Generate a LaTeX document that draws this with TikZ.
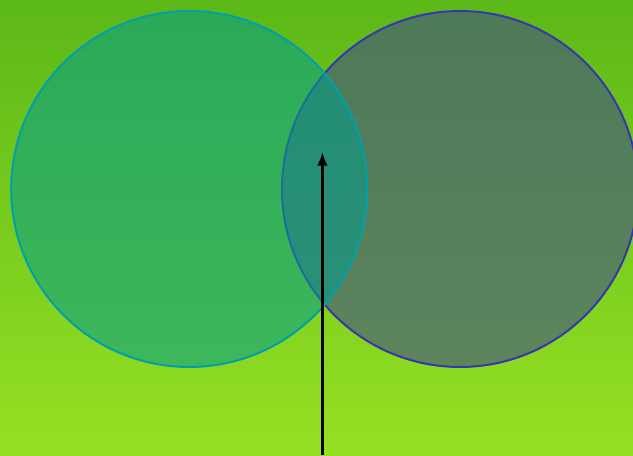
\documentclass[tikz,border=0pt]{standalone}
\usetikzlibrary{arrows.meta,positioning}
\definecolor{bgtop}{RGB}{92,184,24}
\definecolor{bgbot}{RGB}{150,224,36}
\definecolor{setA}{RGB}{0,157,140}
\definecolor{setAline}{RGB}{0,160,170}
\definecolor{setB}{RGB}{70,91,122}
\definecolor{setBline}{RGB}{55,55,170}
\tikzset{
  setcirc/.style={circle,minimum size=8.9cm,inner sep=0pt,line width=1.4pt},
  pointer/.style={-{Latex[length=3.4mm,width=2.6mm]},line width=1.7pt,black}
}

\begin{document}
\begin{tikzpicture}
  \clip (0,0) rectangle (15.825,11.375);
  \shade[top color=bgtop,bottom color=bgbot] (0,0) rectangle (15.825,11.375);

  \node[setcirc,draw=setBline,fill=setB,fill opacity=0.67] (b) at (11.5,6.65) {};
  \node[setcirc,draw=setAline,fill=setA,fill opacity=0.55] (a) at (4.73,6.65) {};

  \coordinate (tail) at (8.06,0);
  \coordinate (tip) at (8.06,7.575);
  \draw[pointer] (tail) -- (tip);
\end{tikzpicture}
\end{document}
